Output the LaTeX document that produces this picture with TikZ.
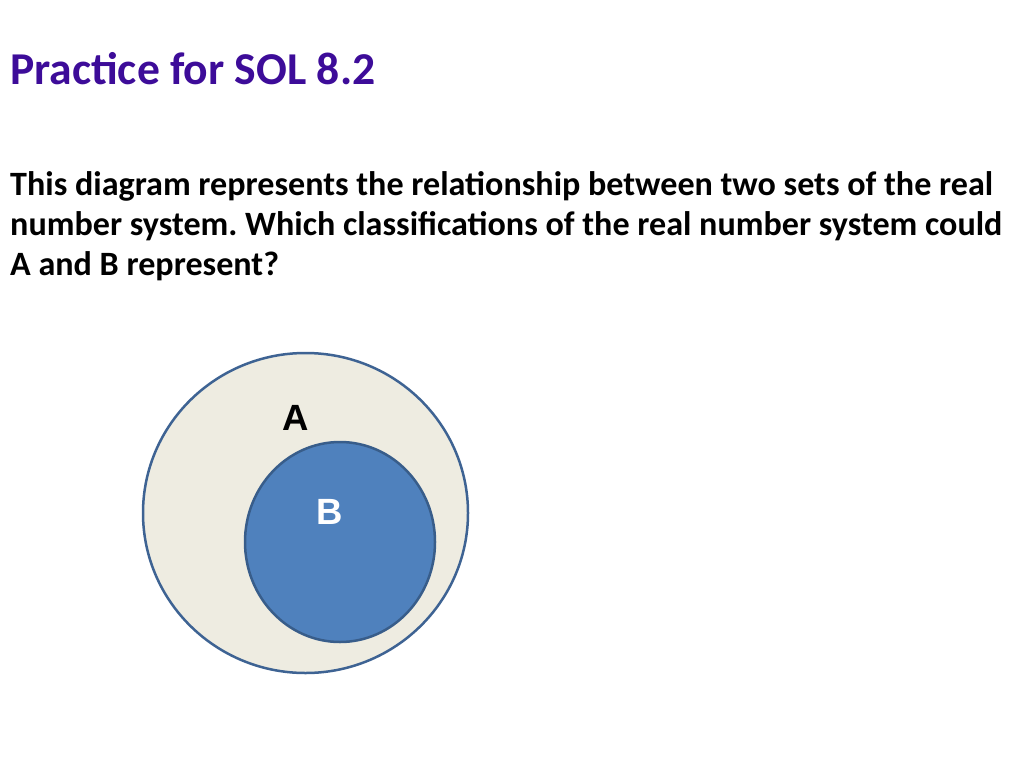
\documentclass[tikz,border=0pt]{standalone}
\usepackage{fontspec}
\setmainfont{Carlito}
\newfontfamily\arialfont{Liberation Sans}
\usetikzlibrary{shapes.geometric}
\definecolor{titlepurple}{HTML}{3D0C99}
\definecolor{setedge}{HTML}{3E6393}
\definecolor{setbeige}{HTML}{EEECE1}
\definecolor{setblue}{HTML}{4F81BD}
\definecolor{setblueedge}{HTML}{385D8A}
\tikzstyle{set}=[draw,ellipse,inner sep=0pt,line width=2.5pt]
\tikzstyle{setlabel}=[inner sep=0pt,font=\arialfont\bfseries\fontsize{36.5}{44}\selectfont]
\frenchspacing

\begin{document}
\begin{tikzpicture}[x=1pt,y=-1pt]
  \useasboundingbox (0,0) rectangle (1024,768);
  \node[anchor=base west,inner sep=0pt,text=titlepurple,
        font=\bfseries\fontsize{45.6}{52}\selectfont] (title) at (10,84) {Practice for SOL 8.2};
  % base of a multi-line node is its last line
  \node[anchor=base west,inner sep=0pt,align=left,
        font=\bfseries\fontsize{34.1}{40}\selectfont] (question) at (10,275)
    {This diagram represents the relationship between two sets of the real\\
     number system. Which classifications of the real number system could\\
     A and B represent?};
  \node[set,fill=setbeige,draw=setedge,minimum width=325,minimum height=320] (setA) at (305.5,513) {};
  \node[set,fill=setblue,draw=setblueedge,minimum width=190,minimum height=200] (setB) at (340,542) {};
  \node[setlabel] (labelA) at (295.5,417.5) {A};
  \node[setlabel,text=white] (labelB) at (329.5,512) {B};
\end{tikzpicture}
\end{document}
